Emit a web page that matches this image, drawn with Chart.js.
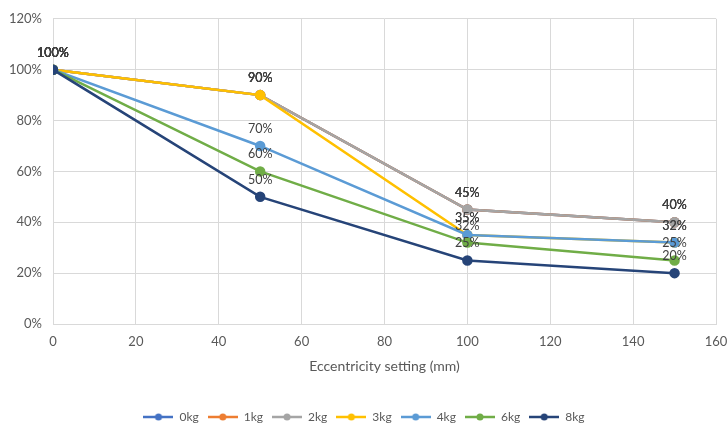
<!DOCTYPE html>
<html>
<head>
<meta charset="utf-8">
<script src="https://cdn.jsdelivr.net/npm/chart.js@4/dist/chart.umd.min.js"></script>
<style>
  html, body { margin: 0; padding: 0; background: #fff; }
  #wrap { width: 728px; height: 423px; }
</style>
</head>
<body>
<div id="wrap"><canvas id="chart" width="728" height="423"></canvas></div>
<script>
// eccentricity setting (mm)
const settings = [0, 50, 100, 150];
const seriesNames = ['0kg', '1kg', '2kg', '3kg', '4kg', '6kg', '8kg'];
const kg0 = [100, 90, 45, 40];
const kg1 = [100, 90, 45, 40];
const kg2 = [100, 90, 45, 40];
const kg3 = [100, 90, 35, 32];
const kg4 = [100, 70, 35, 32];
const kg6 = [100, 60, 32, 25];
const kg8 = [100, 50, 25, 20];
const colors = ['#4472C4', '#ED7D31', '#A5A5A5', '#FFC000', '#5B9BD5', '#70AD47', '#264478'];

const allSeries = [kg0, kg1, kg2, kg3, kg4, kg6, kg8];
const font = 'Lato, "Open Sans", sans-serif';

// legend marker: short line with a dot in the middle
function legendMarker(color) {
  const c = document.createElement('canvas');
  c.width = 30; c.height = 10;
  const ctx = c.getContext('2d');
  ctx.strokeStyle = color;
  ctx.lineWidth = 2.5;
  ctx.beginPath();
  ctx.moveTo(0, 5); ctx.lineTo(30, 5);
  ctx.stroke();
  ctx.fillStyle = color;
  ctx.beginPath();
  ctx.arc(15, 5, 3.5, 0, Math.PI * 2);
  ctx.fill();
  return c;
}

// percent labels above each point
const pointLabels = {
  id: 'pointLabels',
  afterDatasetsDraw(chart) {
    const ctx = chart.ctx;
    ctx.save();
    ctx.font = '12.5px ' + font;
    ctx.fillStyle = '#404040';
    ctx.textAlign = 'center';
    ctx.textBaseline = 'middle';
    chart.data.datasets.forEach((ds, i) => {
      chart.getDatasetMeta(i).data.forEach((pt, j) => {
        ctx.fillText(ds.data[j].y + '%', pt.x, pt.y - 17);
      });
    });
    ctx.restore();
  }
};

new Chart(document.getElementById('chart'), {
  type: 'line',
  data: {
    datasets: allSeries.map((vals, i) => ({
      label: seriesNames[i],
      data: vals.map((v, j) => ({ x: settings[j], y: v })),
      borderColor: colors[i],
      backgroundColor: colors[i],
      borderWidth: 2.5,
      pointRadius: 4,
      pointHoverRadius: 4,
      tension: 0,
      fill: false,
      order: allSeries.length - i,
      pointStyle: 'circle'
    }))
  },
  options: {
    responsive: false,
    animation: false,
    layout: { padding: { top: 17, right: 0, left: 0, bottom: -10 } },
    plugins: {
      tooltip: { enabled: false },
      legend: {
        position: 'bottom',
        labels: {
          usePointStyle: true,
          pointStyleWidth: 30,
          font: { family: font, size: 12 },
          color: '#595959',
          padding: 9,
          sort: (a, b) => a.datasetIndex - b.datasetIndex,
          generateLabels(chart) {
            return chart.data.datasets.map((ds, i) => ({
              text: ds.label,
              pointStyle: legendMarker(colors[i]),
              fillStyle: colors[i],
              strokeStyle: colors[i],
              fontColor: '#595959',
              lineWidth: 0,
              datasetIndex: i
            }));
          }
        }
      }
    },
    scales: {
      x: {
        type: 'linear',
        min: 0,
        max: 160,
        ticks: { stepSize: 20, color: '#595959', font: { family: font, size: 13 }, padding: 10 },
        grid: { color: '#d9d9d9', drawTicks: false },
        border: { color: '#d9d9d9' },
        title: {
          display: true,
          text: 'Eccentricity setting (mm)',
          color: '#595959',
          font: { family: font, size: 14 },
          padding: { top: 8, bottom: 27 }
        },
        afterFit(scale) {
          scale.height = 78;
          scale.paddingRight = 12;
          scale.paddingLeft = 0;
        }
      },
      y: {
        min: 0,
        max: 120,
        ticks: {
          stepSize: 20,
          color: '#595959',
          font: { family: font, size: 13 },
          padding: 11,
          callback: v => v + '%'
        },
        grid: { color: '#d9d9d9', drawTicks: false },
        border: { display: false },
        afterFit(scale) { scale.width = 53; }
      }
    }
  },
  plugins: [pointLabels]
});
</script>
</body>
</html>
